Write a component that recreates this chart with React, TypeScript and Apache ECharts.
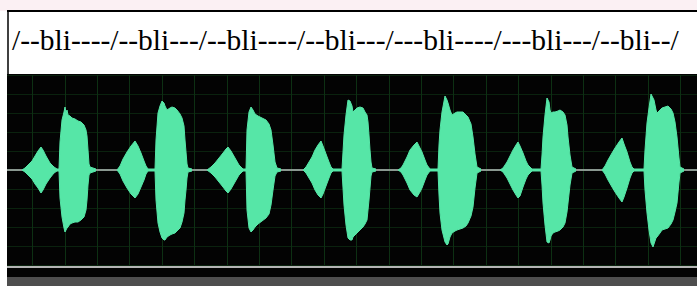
import React, { useEffect, useRef } from "react";
import * as echarts from "echarts";

const TITLE = "/--bli----/--bli---/--bli----/--bli---/---bli----/---bli---/--bli--/";

// [time, upper amplitude, lower amplitude]
const SYL1: number[][] = [
  [22, 0, 0], [25, 2, 2], [28, 5, 5], [32, 9, 9], [35, 14, 14], [38, 19, 18], [41, 23, 23], [43, 20, 20], [46, 14, 14], [50, 7, 8], [54, 3, 3], [57, 1, 1], [59, 1, 1],
  [60, 28, 28], [62, 50, 47], [64, 58, 58], [65, 63, 62], [66, 57, 60], [67, 60, 58], [68, 55, 57], [70, 54, 54], [72, 52, 53], [75, 51, 52], [78, 49, 52], [81, 48, 50], [84, 45, 47], [86, 40, 40], [87, 34, 30], [88, 20, 15], [89, 6, 5], [90, 3, 3], [93, 2, 2], [96, 1, 1],
];
const SYL2: number[][] = [
  [117, 0, 0], [120, 4, 4], [123, 11, 11], [127, 18, 18], [131, 24, 24], [135, 29, 28], [138, 24, 24], [141, 17, 17], [144, 9, 10], [146, 4, 4], [148, 1, 1], [155, 1, 1],
  [156, 30, 30], [158, 57, 53], [160, 64, 62], [162, 69, 68], [164, 67, 70], [165, 64, 70], [167, 60, 67], [170, 62, 65], [172, 63, 64], [175, 62, 63], [177, 60, 61], [180, 56, 58], [182, 52, 52], [184, 44, 43], [185, 30, 30], [186, 18, 20], [187, 6, 8], [188, 2, 2], [192, 1, 1],
];
const SYL3: number[][] = [
  [207, 0, 0], [211, 3, 3], [215, 7, 7], [219, 12, 12], [223, 17, 17], [226, 21, 21], [228, 23, 23], [231, 19, 19], [235, 12, 12], [239, 5, 5], [243, 1, 1], [246, 1, 1],
  [247, 40, 40], [249, 58, 58], [251, 63, 62], [253, 60, 60], [255, 56, 57], [258, 54, 54], [262, 52, 51], [266, 50, 48], [269, 46, 44], [271, 40, 35], [273, 25, 20], [275, 8, 6], [277, 2, 2], [281, 1, 1],
];
const SYL4: number[][] = [
  [303, 0, 0], [306, 3, 3], [309, 8, 8], [312, 13, 13], [315, 20, 20], [318, 25, 25], [321, 29, 28], [323, 24, 24], [326, 16, 16], [329, 8, 8], [331, 3, 3], [333, 1, 1], [342, 1, 1],
  [344, 35, 35], [346, 55, 55], [348, 70, 68], [350, 69, 70], [352, 64, 70], [353, 58, 67], [355, 60, 65], [357, 62, 63], [360, 63, 60], [363, 62, 57], [365, 58, 54], [367, 55, 50], [368, 48, 40], [369, 35, 30], [370, 20, 18], [371, 8, 6], [372, 2, 2], [376, 1, 1],
];
const SYL5: number[][] = [
  [398, 0, 0], [401, 2, 2], [403, 5, 5], [407, 13, 13], [410, 20, 20], [414, 25, 25], [417, 28, 27], [420, 22, 22], [422, 18, 18], [425, 10, 10], [427, 5, 5], [430, 1, 1], [438, 1, 1],
  [439, 25, 25], [440, 40, 43], [442, 58, 60], [445, 74, 72], [447, 70, 75], [448, 67, 74], [450, 60, 67], [452, 55, 63], [455, 57, 61], [457, 58, 60], [460, 58, 59], [463, 58, 58], [466, 55, 56], [468, 53, 53], [471, 46, 46], [473, 33, 37], [475, 16, 18], [477, 3, 3], [481, 1, 1],
];
const SYL6: number[][] = [
  [500, 0, 0], [503, 2, 2], [507, 8, 8], [510, 14, 14], [513, 20, 20], [516, 25, 25], [518, 28, 28], [520, 24, 26], [523, 17, 17], [526, 9, 9], [528, 5, 5], [532, 1, 1], [541, 1, 1],
  [542, 15, 15], [543, 33, 33], [545, 55, 55], [547, 72, 72], [549, 68, 73], [550, 60, 70], [551, 57, 66], [553, 58, 63], [555, 58, 62], [558, 59, 61], [560, 60, 60], [563, 58, 57], [565, 55, 53], [567, 45, 42], [568, 33, 33], [570, 15, 15], [572, 3, 3], [576, 1, 1],
];
const SYL7: number[][] = [
  [602, 0, 0], [605, 4, 4], [608, 10, 10], [612, 17, 17], [615, 22, 22], [619, 28, 28], [622, 32, 32], [624, 26, 27], [627, 18, 18], [630, 8, 8], [632, 3, 3], [634, 1, 1], [644, 1, 1],
  [645, 20, 20], [647, 47, 43], [649, 62, 60], [651, 76, 73], [653, 72, 77], [654, 70, 74], [656, 60, 68], [657, 57, 67], [660, 60, 63], [662, 62, 60], [665, 63, 59], [668, 64, 58], [671, 61, 54], [673, 57, 50], [675, 48, 42], [677, 33, 33], [679, 12, 12], [680, 3, 3], [684, 1, 1],
];

const SYLLABLES = [SYL1, SYL2, SYL3, SYL4, SYL5, SYL6, SYL7];

const WAVE = "#56e6a7";

export default function App() {
  const ref = useRef<HTMLDivElement>(null);
  useEffect(() => {
    if (!ref.current) return;
    const chart = echarts.init(ref.current, undefined, { renderer: "svg" });
    const upper: any[] = [];
    const lower: any[] = [];
    SYLLABLES.forEach((s) => {
      s.forEach((p) => {
        upper.push([p[0], p[1]]);
        lower.push([p[0], -p[2]]);
      });
      const t = s[s.length - 1][0] + 1;
      upper.push([t, "-"]);
      lower.push([t, "-"]);
    });
    const waveSeries = (name: string, data: any[]) => ({
      type: "line",
      name,
      data,
      xAxisIndex: 0,
      yAxisIndex: 0,
      showSymbol: false,
      smooth: false,
      connectNulls: false,
      lineStyle: { color: WAVE, width: 1 },
      itemStyle: { color: WAVE },
      areaStyle: { color: WAVE, opacity: 1 },
      z: 5,
    });
    chart.setOption({
      animation: false,
      backgroundColor: "#ffffff",
      grid: [
        { left: 0, right: 0, top: 75, bottom: 21 },
        { left: 0, right: 0, top: 278, height: 8 },
      ],
      xAxis: [
        {
          type: "value",
          gridIndex: 0,
          min: 0,
          max: 697,
          interval: 32.4,
          axisLine: { show: true, onZero: true, lineStyle: { color: "#8a9890", width: 2 } },
          axisTick: { show: false },
          axisLabel: { show: false },
          splitLine: { show: true, lineStyle: { color: "#0d3013", width: 1 } },
        },
        {
          type: "value",
          gridIndex: 1,
          position: "top",
          min: 0,
          max: 697,
          interval: 32.4,
          axisLine: { show: false },
          axisTick: { show: true, inside: true, length: 4, lineStyle: { color: "#c8c8c8", width: 1 } },
          minorTick: { show: true, splitNumber: 5, length: 2, lineStyle: { color: "#a8a8a8", width: 1 } },
          axisLabel: { show: false },
          splitLine: { show: false },
          z: 60,
        },
      ],
      yAxis: [
        {
          type: "value",
          gridIndex: 0,
          min: -95,
          max: 95,
          interval: 19,
          axisLine: { show: false },
          axisTick: { show: false },
          axisLabel: { show: false },
          splitLine: { show: true, lineStyle: { color: "#0a220e", width: 1 } },
        },
        {
          type: "value",
          gridIndex: 1,
          show: false,
          min: 0,
          max: 1,
        },
      ],
      series: [waveSeries("upper", upper), waveSeries("lower", lower)],
      graphic: [
        { type: "rect", silent: true, z: -10, shape: { x: 0, y: 0, width: 697, height: 11 }, style: { fill: "#fbf0f3" } },
        { type: "rect", silent: true, z: -10, shape: { x: 7, y: 74, width: 690, height: 203 }, style: { fill: "#030303" } },
        { type: "rect", silent: true, z: -10, shape: { x: 7, y: 277, width: 690, height: 9 }, style: { fill: "#4e4e4e" } },
        { type: "rect", silent: true, z: 50, shape: { x: 0, y: 74, width: 7, height: 212 }, style: { fill: "#ffffff" } },
        { type: "line", silent: true, z: 50, shape: { x1: 7, y1: 11, x2: 697, y2: 11 }, style: { stroke: "#000", lineWidth: 2 } },
        { type: "line", silent: true, z: 50, shape: { x1: 8, y1: 10, x2: 8, y2: 74 }, style: { stroke: "#000", lineWidth: 1.5 } },
        { type: "rect", silent: true, z: 50, shape: { x: 7, y: 266, width: 690, height: 2 }, style: { fill: "#b4b4b4" } },
        { type: "rect", silent: true, z: 50, shape: { x: 7, y: 268, width: 690, height: 9 }, style: { fill: "#030303" } },
        {
          type: "text",
          silent: true,
          z: 60,
          x: 12,
          y: 40,
          style: {
            text: TITLE,
            fill: "#000",
            fontFamily: "Liberation Serif",
            fontSize: 29.5,
            verticalAlign: "middle",
            align: "left",
          },
        },
      ],
    });
    return () => chart.dispose();
  }, []);
  return (
    <div
      ref={ref}
      style={{ position: "fixed", left: 0, top: 0, width: 697, height: 286 }}
    />
  );
}
